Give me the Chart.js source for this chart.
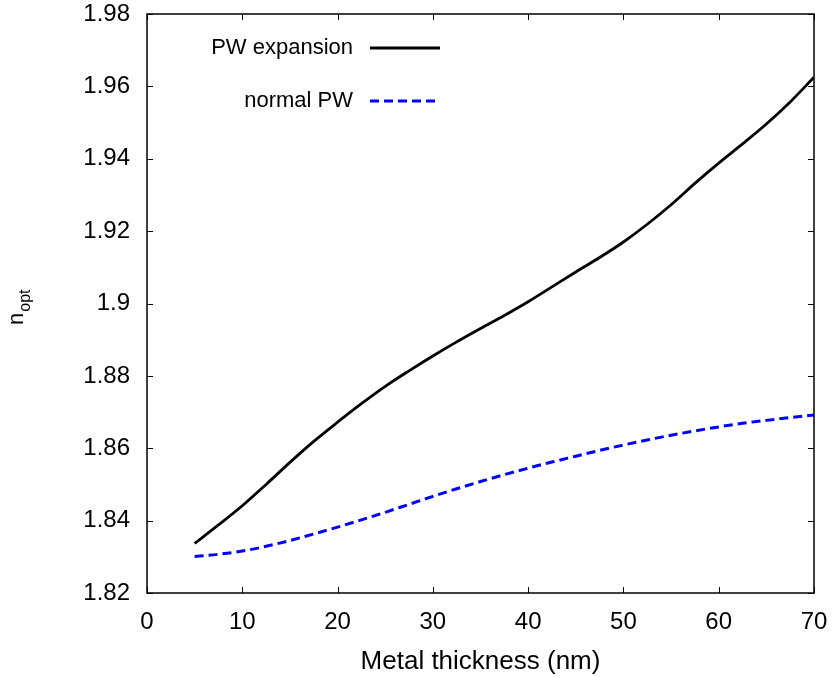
<!DOCTYPE html>
<html>
<head>
<meta charset="utf-8">
<script src="https://cdn.jsdelivr.net/npm/chart.js@4.4.1/dist/chart.umd.min.js"></script>
<style>
    html, body { margin: 0; padding: 0; background: #fff; }
    canvas { display: block; }
</style>
</head>
<body>
<canvas id="chart" width="836" height="677"></canvas>
<script>
// values
const thickness = [5, 7.5, 10, 12.5, 15, 17.5, 20, 22.5, 25, 27.5, 30, 32.5, 35, 37.5,
    40, 42.5, 45, 47.5, 50, 52.5, 55, 57.5, 60, 62.5, 65, 67.5, 70];

const pwExpansion = [1.8337, 1.8388, 1.8441, 1.8500, 1.8561, 1.8619, 1.8672, 1.8723, 1.8771,
    1.8814, 1.8855, 1.8894, 1.8931, 1.8967, 1.9005, 1.9046, 1.9087, 1.9127, 1.9170,
    1.9219, 1.9273, 1.9332, 1.9388, 1.9441, 1.9496, 1.9557, 1.9625];

const normalPW = [1.8301, 1.8307, 1.8316, 1.8329, 1.8345, 1.8363, 1.8382, 1.8402, 1.8423,
    1.8445, 1.8467, 1.8488, 1.8508, 1.8527, 1.8545, 1.8562, 1.8578, 1.8594, 1.8609,
    1.8623, 1.8636, 1.8648, 1.8659, 1.8669, 1.8677, 1.8685, 1.8692];

const seriesNames = ['PW expansion', 'normal PW'];

const FONT = 'Arial, "Liberation Sans", sans-serif';

function toPoints(xs, ys) {
    return xs.map((x, i) => ({ x: x, y: ys[i] }));
}

// frame with inward ticks on all four sides, y title with subscript, legend
const framePlugin = {
    id: 'frame',
    afterDraw(chart) {
        const ctx = chart.ctx;
        const a = chart.chartArea;
        const xs = chart.scales.x;
        const ys = chart.scales.y;
        const tl = 6;

        ctx.save();
        ctx.strokeStyle = '#000';
        ctx.lineWidth = 1.5;
        ctx.strokeRect(a.left, a.top, a.right - a.left, a.bottom - a.top);

        ctx.lineWidth = 1;
        ctx.beginPath();
        xs.ticks.forEach(t => {
            const px = Math.round(xs.getPixelForValue(t.value)) + 0.5;
            ctx.moveTo(px, a.bottom); ctx.lineTo(px, a.bottom - tl);
            ctx.moveTo(px, a.top); ctx.lineTo(px, a.top + tl);
        });
        ys.ticks.forEach(t => {
            const py = Math.round(ys.getPixelForValue(t.value)) + 0.5;
            ctx.moveTo(a.left, py); ctx.lineTo(a.left + tl, py);
            ctx.moveTo(a.right, py); ctx.lineTo(a.right - tl, py);
        });
        ctx.stroke();

        // y axis title: n_opt
        ctx.fillStyle = '#000';
        ctx.translate(23, 325);
        ctx.rotate(-Math.PI / 2);
        ctx.textBaseline = 'alphabetic';
        ctx.font = '22px ' + FONT;
        ctx.fillText('n', 0, 0);
        const w = ctx.measureText('n').width;
        ctx.font = '16px ' + FONT;
        ctx.fillText('opt', w + 1, 7);
        ctx.restore();

        // legend
        ctx.save();
        ctx.font = '22px ' + FONT;
        ctx.textAlign = 'right';
        ctx.textBaseline = 'middle';
        const rows = [48, 101];
        chart.data.datasets.forEach((ds, i) => {
            const y = rows[i];
            ctx.fillStyle = '#000';
            ctx.fillText(ds.label, 353, y);
            ctx.strokeStyle = ds.borderColor;
            ctx.lineWidth = ds.borderWidth;
            ctx.setLineDash(ds.borderDash || []);
            ctx.beginPath();
            ctx.moveTo(370, y);
            ctx.lineTo(440, y);
            ctx.stroke();
        });
        ctx.restore();
    }
};

const ctx = document.getElementById('chart').getContext('2d');

new Chart(ctx, {
    type: 'line',
    data: {
        datasets: [{
            label: seriesNames[0],
            data: toPoints(thickness, pwExpansion),
            borderColor: '#000000',
            borderWidth: 2.8,
            pointRadius: 0,
            cubicInterpolationMode: 'monotone',
            fill: false
        }, {
            label: seriesNames[1],
            data: toPoints(thickness, normalPW),
            borderColor: '#0000ff',
            borderWidth: 3,
            borderDash: [9, 5],
            pointRadius: 0,
            cubicInterpolationMode: 'monotone',
            fill: false
        }]
    },
    options: {
        responsive: false,
        animation: false,
        layout: { padding: { top: 14, right: 22, left: 0, bottom: 0 } },
        plugins: {
            legend: { display: false },
            tooltip: { enabled: false }
        },
        scales: {
            x: {
                type: 'linear',
                min: 0,
                max: 70,
                grid: { display: false, drawTicks: false },
                border: { display: false },
                ticks: {
                    stepSize: 10,
                    padding: 15,
                    color: '#000',
                    font: { size: 24, family: FONT }
                },
                title: {
                    display: true,
                    text: 'Metal thickness (nm)',
                    color: '#000',
                    font: { size: 26, family: FONT },
                    padding: { top: 0, bottom: 0 }
                },
                afterFit(scale) {
                    scale.height = 84;
                    scale.paddingLeft = 0;
                    scale.paddingRight = 0;
                }
            },
            y: {
                min: 1.82,
                max: 1.98,
                grid: { display: false, drawTicks: false },
                border: { display: false },
                ticks: {
                    stepSize: 0.02,
                    padding: 17,
                    color: '#000',
                    font: { size: 24, family: FONT },
                    callback: v => String(parseFloat(v.toFixed(2)))
                },
                afterFit(scale) {
                    scale.width = 147;
                    scale.paddingTop = 0;
                    scale.paddingBottom = 0;
                }
            }
        }
    },
    plugins: [framePlugin]
});
</script>
</body>
</html>
